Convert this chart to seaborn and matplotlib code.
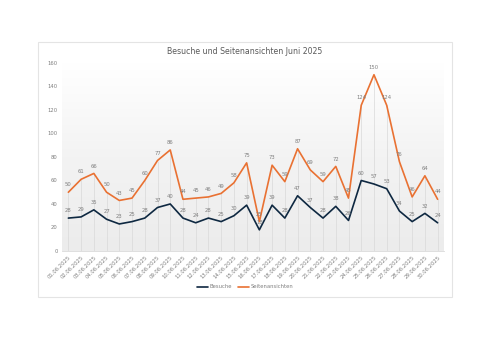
import numpy as np
import pandas as pd
import matplotlib.pyplot as plt
import seaborn as sns
from matplotlib.patches import Rectangle
from matplotlib.colors import LinearSegmentedColormap

sns.set_style('white')
plt.rcParams['font.family'] = ['DejaVu Sans']

dates = [f'{d:02d}.06.2025' for d in range(1, 31)]
besuche = [28, 29, 35, 27, 23, 25, 28, 37, 40, 28, 24, 28, 25, 30, 39,
           18, 39, 28, 47, 37, 28, 38, 26, 60, 57, 53, 34, 25, 32, 24]
seiten = [50, 61, 66, 50, 43, 45, 60, 77, 86, 44, 45, 46, 49, 58, 75,
          25, 73, 59, 87, 69, 59, 72, 45, 124, 150, 124, 76, 46, 64, 44]

df = pd.DataFrame({'Datum': dates * 2,
                   'pos': list(range(30)) * 2,
                   'Wert': besuche + seiten,
                   'Reihe': ['Besuche'] * 30 + ['Seitenansichten'] * 30})

colors = {'Besuche': '#0e2841', 'Seitenansichten': '#e97132'}
grey = '#7f7f7f'

fig = plt.figure(figsize=(5, 3.53), dpi=100)
card = Rectangle((0.076, 0.159), 0.828, 0.722, transform=fig.transFigure,
                 facecolor='white', edgecolor='#e4e4e4', lw=0.8, zorder=-5)
fig.add_artist(card)

ax = fig.add_axes([0.124, 0.289, 0.764, 0.5326])
ax.set_facecolor('none')

# gradient background, white at top, light grey at bottom
grad = np.linspace(0, 1, 256).reshape(-1, 1)
cmap = LinearSegmentedColormap.from_list('bg', ['#ffffff', '#f3f3f3', '#ececec'])
ax.imshow(grad, cmap=cmap, extent=[-0.5, 29.5, 0, 160], aspect='auto',
          origin='upper', zorder=0)

# drop lines
tops = [max(b, s) for b, s in zip(besuche, seiten)]
ax.vlines(range(30), 0, tops, color='#d9d9d9', lw=0.5, zorder=1)

sns.lineplot(data=df, x='pos', y='Wert', hue='Reihe', palette=colors, lw=1.2,
             ax=ax, zorder=3, legend=False)

for vals, name in [(besuche, 'Besuche'), (seiten, 'Seitenansichten')]:
    for x, v in enumerate(vals):
        ax.annotate(str(v), (x, v), xytext=(0, 3.5), textcoords='offset points',
                    ha='center', va='bottom', fontsize=3.8, color=grey, zorder=4)

ax.set_xlim(-0.5, 29.5)
ax.set_ylim(0, 160)
ax.set_yticks(range(0, 161, 20))
ax.set_xticks(range(30))
ax.set_xticklabels(dates, rotation=45, ha='right', rotation_mode='anchor')
ax.tick_params(axis='both', labelsize=3.8, labelcolor=grey, length=0, pad=3)
ax.set_xlabel('')
ax.set_ylabel('')
for s in ['top', 'right', 'left']:
    ax.spines[s].set_visible(False)
ax.spines['bottom'].set_color('#d9d9d9')
ax.spines['bottom'].set_linewidth(0.6)

fig.text(0.49, 0.855, 'Besuche und Seitenansichten Juni 2025', ha='center', va='center',
         fontsize=5.6, color='#595959')

handles = [plt.Line2D([], [], color=colors[k], lw=1.2) for k in colors]
fig.legend(handles, list(colors), loc='center', bbox_to_anchor=(0.49, 0.187), ncol=2,
           frameon=False, fontsize=3.8, labelcolor=grey, handlelength=2.2,
           columnspacing=1.0, handletextpad=0.3)

fig.savefig('out.png', dpi=100)
